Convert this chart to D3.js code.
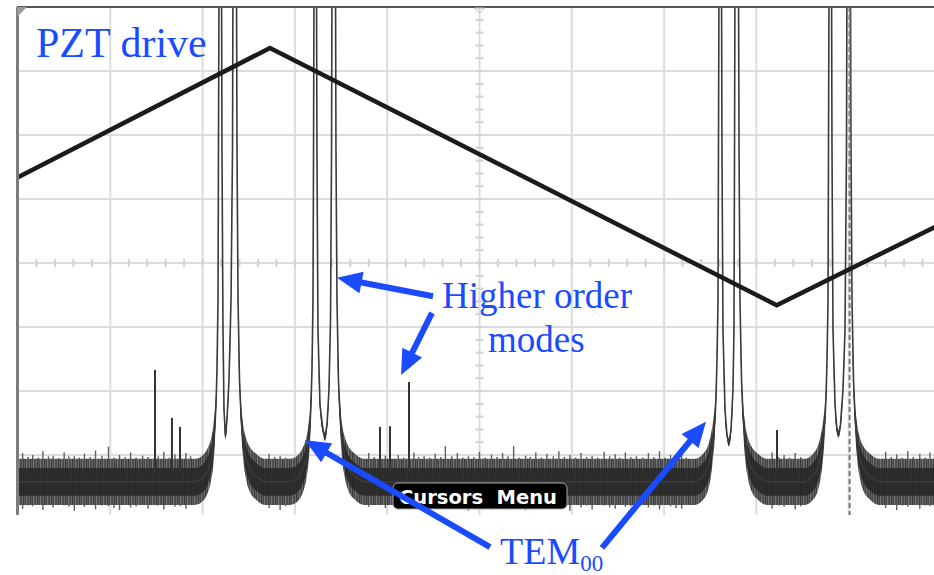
<!DOCTYPE html>
<html>
<head>
<meta charset="utf-8">
<script src="https://cdn.jsdelivr.net/npm/d3@7"></script>
<style>
  body { margin: 0; background: #fff; }
  svg { display: block; }
</style>
</head>
<body>
<svg id="chart" width="934" height="575"></svg>
<script>
// Scope screen: 10 x 8 divisions. All values below are in divisions.

// PZT drive ramp (triangle)
const pztX = [0, 2.73, 8.22, 10];
const pztY = [5.34, 7.36, 3.34, 4.61];

// Transmission trace: [x, y, noise half-width]
const trace = [
  [0.00, 0.58, 0.36], [1.918, 0.58, 0.36],
  // cluster 1
  [2.004, 0.64, 0.36], [2.059, 0.77, 0.35], [2.091, 0.92, 0.33], [2.113, 1.11, 0.31],
  [2.134, 1.47, 0.26], [2.145, 1.78, 0.20], [2.156, 2.33, 0.12], [2.167, 3.42, 0.04],
  [2.172, 5.77, 0], [2.178, 8.42, 0], [2.205, 8.42, 0], [2.210, 5.77, 0],
  [2.221, 2.95, 0.04], [2.232, 1.70, 0.07], [2.248, 1.30, 0.06], [2.264, 1.55, 0.07],
  [2.286, 2.17, 0.06], [2.308, 3.42, 0.04], [2.324, 5.77, 0], [2.329, 8.42, 0],
  [2.367, 8.42, 0], [2.373, 5.77, 0], [2.384, 3.42, 0.04], [2.400, 2.17, 0.12],
  [2.416, 1.63, 0.20], [2.438, 1.23, 0.27], [2.470, 0.95, 0.32], [2.514, 0.77, 0.35],
  [2.579, 0.66, 0.36], [2.676, 0.58, 0.36],
  // cluster 2
  [2.947, 0.58, 0.36], [3.034, 0.64, 0.36], [3.088, 0.77, 0.35], [3.120, 0.92, 0.33],
  [3.142, 1.11, 0.31], [3.164, 1.47, 0.26], [3.174, 1.78, 0.20], [3.185, 2.33, 0.12],
  [3.196, 3.42, 0.04], [3.202, 5.77, 0], [3.207, 8.42, 0], [3.234, 8.42, 0],
  [3.239, 5.77, 0], [3.250, 2.95, 0.04], [3.272, 1.78, 0.07], [3.304, 1.39, 0.06],
  [3.326, 1.28, 0.06], [3.348, 1.47, 0.07], [3.369, 2.02, 0.06], [3.386, 3.11, 0.04],
  [3.397, 5.77, 0], [3.402, 8.42, 0], [3.440, 8.42, 0], [3.445, 5.77, 0],
  [3.456, 3.42, 0.04], [3.472, 2.17, 0.12], [3.489, 1.63, 0.20], [3.510, 1.23, 0.27],
  [3.543, 0.95, 0.32], [3.586, 0.77, 0.35], [3.651, 0.66, 0.36], [3.749, 0.58, 0.36],
  // cluster 3
  [7.335, 0.58, 0.36], [7.422, 0.66, 0.36], [7.476, 0.80, 0.35], [7.508, 1.00, 0.33],
  [7.530, 1.23, 0.29], [7.552, 1.58, 0.23], [7.562, 1.89, 0.17], [7.573, 2.48, 0.10],
  [7.584, 3.42, 0.04], [7.589, 5.77, 0], [7.595, 8.42, 0], [7.622, 8.42, 0],
  [7.627, 5.77, 0], [7.638, 2.95, 0.04], [7.660, 1.70, 0.07], [7.681, 1.31, 0.06],
  [7.703, 1.19, 0.06], [7.725, 1.39, 0.07], [7.746, 2.02, 0.06], [7.757, 2.95, 0.04],
  [7.763, 5.77, 0], [7.768, 8.42, 0], [7.806, 8.42, 0], [7.812, 5.77, 0],
  [7.822, 3.42, 0.04], [7.839, 2.17, 0.12], [7.855, 1.63, 0.20], [7.877, 1.23, 0.27],
  [7.909, 0.95, 0.32], [7.952, 0.77, 0.35], [8.017, 0.66, 0.36], [8.115, 0.58, 0.36],
  // cluster 4
  [8.527, 0.58, 0.36], [8.613, 0.66, 0.36], [8.667, 0.80, 0.35], [8.700, 1.00, 0.33],
  [8.722, 1.23, 0.29], [8.743, 1.58, 0.23], [8.754, 1.89, 0.17], [8.765, 2.48, 0.10],
  [8.776, 3.42, 0.04], [8.781, 5.77, 0], [8.787, 8.42, 0], [8.814, 8.42, 0],
  [8.819, 5.77, 0], [8.830, 2.95, 0.04], [8.852, 1.78, 0.07], [8.873, 1.39, 0.06],
  [8.890, 1.33, 0.06], [8.911, 1.47, 0.07], [8.938, 2.02, 0.06], [8.960, 2.95, 0.04],
  [8.976, 5.77, 0], [8.981, 8.42, 0], [9.019, 8.42, 0], [9.025, 5.77, 0],
  [9.036, 3.42, 0.04], [9.052, 2.17, 0.12], [9.068, 1.63, 0.20], [9.090, 1.23, 0.27],
  [9.122, 0.95, 0.32], [9.166, 0.77, 0.35], [9.231, 0.66, 0.36], [9.328, 0.58, 0.36],
  [10.0, 0.58, 0.36]
];

// narrow higher-order mode spikes: [x, peak y]
const modeSpikes = [
  [1.484, 2.33], [1.668, 1.58], [1.755, 1.44],
  [3.922, 1.44], [4.030, 1.45], [4.236, 2.14], [8.223, 1.39]
];

// noise excursions on the floor: [x, top, bottom]
const noiseTicks = [
  [0.05, 1.03, 0.16], [0.11, 0.97, 0.21], [0.16, 1.00, 0.20], [0.22, 0.96, 0.23], [0.27, 1.06, 0.14],
  [0.33, 0.98, 0.22], [0.38, 0.99, 0.18], [0.44, 0.95, 0.24], [0.50, 1.04, 0.21], [0.55, 0.98, 0.19],
  [0.61, 0.98, 0.13], [0.66, 0.96, 0.22], [0.72, 1.02, 0.19], [0.78, 0.97, 0.23], [0.84, 1.07, 0.15],
  [0.91, 0.99, 0.21], [0.98, 1.13, 0.20], [1.04, 0.96, 0.17], [1.10, 1.00, 0.14], [1.16, 0.97, 0.22],
  [1.22, 1.04, 0.18], [1.28, 0.96, 0.20], [1.35, 0.99, 0.22], [1.41, 0.97, 0.16], [1.52, 0.98, 0.21],
  [1.58, 1.05, 0.15], [1.64, 0.96, 0.23], [1.70, 1.01, 0.19], [1.76, 0.97, 0.20], [1.82, 1.03, 0.16],
  [1.87, 0.98, 0.22],
  [2.72, 1.02, 0.17], [2.78, 0.97, 0.22], [2.84, 0.99, 0.14], [2.90, 0.96, 0.20],
  [3.80, 1.03, 0.19], [3.86, 0.97, 0.22], [3.98, 0.99, 0.17], [4.12, 1.00, 0.15], [4.18, 0.96, 0.22],
  [4.29, 1.04, 0.21], [4.34, 0.97, 0.18], [4.40, 0.99, 0.14], [4.46, 0.96, 0.23], [4.52, 1.02, 0.18],
  [4.58, 0.97, 0.21], [4.63, 1.14, 0.16], [4.70, 0.98, 0.22], [4.76, 1.03, 0.20], [4.82, 0.96, 0.17],
  [4.88, 0.98, 0.13], [4.94, 0.97, 0.22], [5.00, 1.05, 0.19], [5.06, 0.96, 0.21], [5.13, 1.01, 0.15],
  [5.19, 0.97, 0.23], [5.25, 1.03, 0.21], [5.31, 0.98, 0.18], [5.37, 1.14, 0.17], [5.43, 0.96, 0.22],
  [5.50, 0.99, 0.14], [5.55, 0.97, 0.20], [5.61, 1.04, 0.19], [5.67, 0.96, 0.22], [5.73, 1.02, 0.16],
  [5.80, 0.98, 0.21], [5.86, 1.06, 0.20], [5.92, 0.97, 0.17], [5.98, 1.00, 0.13], [6.04, 0.96, 0.22],
  [6.10, 1.03, 0.18], [6.16, 0.97, 0.21], [6.22, 0.99, 0.15], [6.28, 0.96, 0.23], [6.35, 1.05, 0.21],
  [6.41, 0.98, 0.18], [6.47, 1.01, 0.16], [6.52, 0.96, 0.22], [6.58, 1.04, 0.19], [6.64, 0.97, 0.20],
  [6.70, 0.98, 0.14], [6.77, 0.96, 0.22], [6.83, 1.03, 0.18], [6.89, 0.97, 0.21], [6.95, 1.06, 0.15],
  [7.01, 0.96, 0.22], [7.07, 1.00, 0.20], [7.13, 0.97, 0.17], [7.19, 1.03, 0.16], [7.24, 0.96, 0.22],
  [8.17, 1.04, 0.16], [8.24, 0.97, 0.21], [8.30, 1.00, 0.19], [8.36, 0.96, 0.22], [8.42, 1.03, 0.15],
  [8.48, 0.97, 0.20],
  [9.40, 1.05, 0.17], [9.46, 0.97, 0.22], [9.52, 1.01, 0.14], [9.58, 0.96, 0.21], [9.64, 1.06, 0.19],
  [9.70, 0.97, 0.22], [9.77, 1.02, 0.16], [9.83, 0.96, 0.21], [9.88, 1.04, 0.20], [9.93, 0.97, 0.18],
  [9.98, 1.00, 0.15]
];

const cursorX = [9.01];
const labels = { pzt: "PZT drive", hom1: "Higher order", hom2: "modes", tem: "TEM", temSub: "00", menu: "Cursors  Menu" };

const svg = d3.select("#chart");
const x = d3.scaleLinear().domain([0, 10]).range([18, 941]);
const y = d3.scaleLinear().domain([0, 8]).range([519, 7]);
const blue = "#1a4bff";
const bottomPx = 515;

const defs = svg.append("defs");
defs.append("clipPath").attr("id", "scr")
  .append("rect").attr("x", 17).attr("y", 7).attr("width", 930).attr("height", bottomPx - 7);

// vertical-stripe texture for the noisy trace
const pat = defs.append("pattern").attr("id", "grain").attr("patternUnits", "userSpaceOnUse")
  .attr("width", 7).attr("height", 40);
["#4a4a4a", "#6a6a6a", "#3a3a3a", "#5c5c5c", "#444", "#747474", "#505050"].forEach((c, i) => {
  pat.append("rect").attr("x", i).attr("y", 0).attr("width", 1).attr("height", 40).attr("fill", c);
});

// grid
const grid = svg.append("g").attr("clip-path", "url(#scr)");
grid.selectAll("line.v").data(d3.range(0, 11)).enter().append("line")
  .attr("x1", d => x(d)).attr("x2", d => x(d)).attr("y1", y(8)).attr("y2", bottomPx)
  .attr("stroke", "#dcdcdc").attr("stroke-width", 2);
grid.selectAll("line.h").data(d3.range(0, 9)).enter().append("line")
  .attr("y1", d => y(d)).attr("y2", d => y(d)).attr("x1", x(0)).attr("x2", x(10))
  .attr("stroke", "#dcdcdc").attr("stroke-width", 2);
// centre-axis minor ticks
grid.selectAll("line.tx").data(d3.range(0, 10.01, 0.2)).enter().append("line")
  .attr("x1", d => x(d)).attr("x2", d => x(d)).attr("y1", y(4) - 4).attr("y2", y(4) + 4)
  .attr("stroke", "#d2d2d2").attr("stroke-width", 2);
grid.selectAll("line.ty").data(d3.range(0, 8.01, 0.2)).enter().append("line")
  .attr("y1", d => y(d)).attr("y2", d => y(d)).attr("x1", x(5) - 4).attr("x2", x(5) + 4)
  .attr("stroke", "#d2d2d2").attr("stroke-width", 2);

const plot = svg.append("g").attr("clip-path", "url(#scr)");

// noise band and core
const band = d3.area().curve(d3.curveMonotoneX).x(d => x(d[0])).y0(d => y(d[1] - d[2])).y1(d => y(d[1] + d[2]));
const core = d3.area().curve(d3.curveMonotoneX).x(d => x(d[0])).y0(d => y(d[1] - d[2] * 0.6)).y1(d => y(d[1] + d[2] * 0.6));

plot.selectAll("line.nz").data(noiseTicks).enter().append("line")
  .attr("x1", d => x(d[0])).attr("x2", d => x(d[0]))
  .attr("y1", d => y(d[1])).attr("y2", d => y(d[2]))
  .attr("stroke", "#5e5e5e").attr("stroke-width", 1.4);

plot.append("path").attr("d", band(trace)).attr("fill", "url(#grain)");
plot.append("path").attr("d", core(trace)).attr("fill", "#242424").attr("opacity", 0.85);

// trace line (peak edges)
plot.append("path")
  .attr("d", d3.line().x(d => x(d[0])).y(d => y(d[1]))(trace))
  .attr("fill", "none").attr("stroke", "#3a3a3a").attr("stroke-width", 1.6);

plot.selectAll("line.sp").data(modeSpikes).enter().append("line")
  .attr("x1", d => x(d[0])).attr("x2", d => x(d[0]))
  .attr("y1", y(0.75)).attr("y2", d => y(d[1]))
  .attr("stroke", "#333").attr("stroke-width", 2);

// cursor
plot.selectAll("line.cur").data(cursorX).enter().append("line")
  .attr("x1", d => x(d)).attr("x2", d => x(d)).attr("y1", y(8)).attr("y2", bottomPx)
  .attr("stroke", "#777").attr("stroke-width", 2).attr("stroke-dasharray", "5,3");

// PZT ramp
plot.append("path")
  .attr("d", d3.line().x(d => x(d[0])).y(d => y(d[1]))(pztX.map((v, i) => [v, pztY[i]])))
  .attr("fill", "none").attr("stroke", "#1b1b1b").attr("stroke-width", 4.5);

// screen frame
svg.append("line").attr("x1", 17).attr("x2", 934).attr("y1", 7).attr("y2", 7)
  .attr("stroke", "#555").attr("stroke-width", 2);
svg.append("line").attr("x1", 17.5).attr("x2", 17.5).attr("y1", 7).attr("y2", bottomPx)
  .attr("stroke", "#7c7c7c").attr("stroke-width", 3);
svg.append("path").attr("d", "M17,7L27,7L17,17Z").attr("fill", "#9a9a9a");
svg.append("path").attr("d", `M${x(5) - 5},8L${x(5) + 5},8L${x(5)},13Z`)
  .attr("fill", "none").attr("stroke", "#bbb").attr("stroke-width", 1);

// Cursors Menu softkey label
svg.append("rect").attr("x", 393).attr("y", 483).attr("width", 174).attr("height", 26).attr("rx", 5)
  .attr("fill", "#000").attr("stroke", "#aaa").attr("stroke-width", 1);
svg.append("text").attr("x", 399).attr("y", 504)
  .attr("font-family", "DejaVu Sans").attr("font-weight", "bold").attr("font-size", 19)
  .attr("fill", "#fff").attr("textLength", 158).attr("lengthAdjust", "spacingAndGlyphs")
  .style("white-space", "pre").text(labels.menu);

// annotation arrows
function arrow(from, to) {
  const x1 = x(from[0]), y1 = y(from[1]), x2 = x(to[0]), y2 = y(to[1]);
  const L = Math.hypot(x2 - x1, y2 - y1), ux = (x2 - x1) / L, uy = (y2 - y1) / L;
  const px = -uy, py = ux, hl = 25, hw = 11, sw = 3;
  const bx = x2 - ux * hl, by = y2 - uy * hl;
  const pts = [[x1 + px * sw, y1 + py * sw], [bx + px * sw, by + py * sw], [bx + px * hw, by + py * hw],
    [x2, y2], [bx - px * hw, by - py * hw], [bx - px * sw, by - py * sw], [x1 - px * sw, y1 - py * sw]];
  svg.append("path").attr("d", "M" + pts.map(p => p.join(",")).join("L") + "Z").attr("fill", blue);
}
arrow([4.496, 3.48], [3.456, 3.77]);
arrow([4.485, 3.22], [4.150, 2.25]);
arrow([5.114, -0.44], [3.109, 1.23]);
arrow([6.327, -0.45], [7.454, 1.52]);

const serif = "'Liberation Serif', 'Times New Roman', serif";
svg.append("text").attr("x", 36).attr("y", 57).attr("font-family", serif).attr("font-size", 42)
  .attr("fill", blue).text(labels.pzt);
svg.append("text").attr("x", 442).attr("y", 308).attr("font-family", serif).attr("font-size", 37)
  .attr("fill", blue).text(labels.hom1);
svg.append("text").attr("x", 488).attr("y", 352).attr("font-family", serif).attr("font-size", 37)
  .attr("fill", blue).text(labels.hom2);
const tem = svg.append("text").attr("x", 500).attr("y", 564).attr("font-family", serif).attr("font-size", 38)
  .attr("fill", blue);
tem.append("tspan").text(labels.tem);
tem.append("tspan").attr("font-size", 23).attr("dy", 7).text(labels.temSub);
</script>
</body>
</html>
